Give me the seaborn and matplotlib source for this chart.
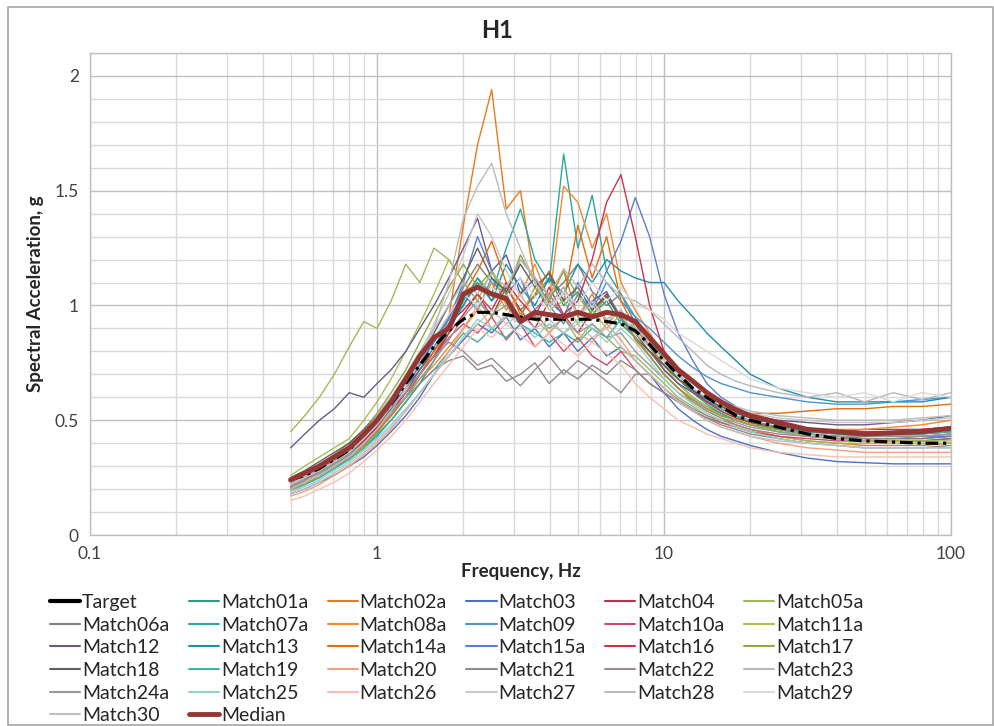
import numpy as np
import pandas as pd
import matplotlib
matplotlib.use("Agg")
import matplotlib.pyplot as plt
from matplotlib.lines import Line2D
from matplotlib.patches import Rectangle
from matplotlib.ticker import FixedLocator, NullFormatter, MultipleLocator
import seaborn as sns

freq = [0.5, 0.56, 0.63, 0.71, 0.8, 0.9, 1.0, 1.12, 1.26, 1.41,
        1.58, 1.78, 2.0, 2.24, 2.51, 2.82, 3.16, 3.55, 3.98, 4.47,
        5.01, 5.62, 6.31, 7.08, 7.94, 8.91, 10.0, 11.2, 12.6, 14.1,
        15.8, 17.8, 20.0, 25.0, 31.6, 40.0, 50.0, 63.0, 79.0, 100.0]

target = [0.24, 0.26, 0.29, 0.33, 0.37, 0.44, 0.50, 0.57, 0.66, 0.74,
          0.82, 0.89, 0.94, 0.97, 0.97, 0.96, 0.95, 0.94, 0.94, 0.94,
          0.94, 0.94, 0.93, 0.92, 0.89, 0.83, 0.76, 0.70, 0.64, 0.60,
          0.56, 0.52, 0.50, 0.47, 0.44, 0.42, 0.41, 0.405, 0.40, 0.40]
median = [0.24, 0.27, 0.30, 0.34, 0.38, 0.44, 0.50, 0.58, 0.68, 0.78,
          0.86, 0.90, 1.05, 1.08, 1.05, 1.03, 0.93, 0.97, 0.96, 0.95,
          0.97, 0.95, 0.97, 0.96, 0.93, 0.86, 0.79, 0.72, 0.67, 0.62,
          0.58, 0.545, 0.52, 0.49, 0.46, 0.45, 0.44, 0.445, 0.45, 0.465]

match01a = [0.22, 0.25, 0.27, 0.31, 0.35, 0.40, 0.45, 0.52, 0.60, 0.70,
            0.78, 0.90, 1.00, 1.12, 1.02, 1.08, 0.98, 1.04, 1.12, 1.00,
            1.06, 0.96, 1.02, 0.92, 0.86, 0.80, 0.74, 0.68, 0.63, 0.58,
            0.55, 0.52, 0.49, 0.46, 0.44, 0.43, 0.42, 0.42, 0.42, 0.43]
match02a = [0.20, 0.23, 0.26, 0.30, 0.33, 0.38, 0.44, 0.50, 0.58, 0.66,
            0.76, 0.95, 1.35, 1.70, 1.94, 1.42, 1.50, 1.10, 1.05, 1.15,
            0.95, 1.05, 0.92, 0.98, 0.85, 0.78, 0.70, 0.64, 0.58, 0.54,
            0.51, 0.48, 0.46, 0.43, 0.41, 0.40, 0.39, 0.39, 0.39, 0.40]
match03 = [0.18, 0.20, 0.23, 0.26, 0.30, 0.34, 0.39, 0.45, 0.52, 0.60,
           0.70, 0.78, 0.85, 0.92, 0.88, 0.95, 0.85, 0.90, 0.82, 0.88,
           0.80, 0.86, 0.78, 0.82, 0.76, 0.70, 0.62, 0.55, 0.50, 0.46,
           0.43, 0.41, 0.39, 0.36, 0.335, 0.32, 0.315, 0.31, 0.31, 0.31]
match04 = [0.21, 0.24, 0.28, 0.32, 0.36, 0.42, 0.48, 0.55, 0.64, 0.72,
           0.80, 0.92, 0.98, 1.05, 0.95, 1.08, 0.98, 0.90, 1.02, 0.96,
           0.88, 0.98, 1.05, 0.95, 0.86, 0.78, 0.70, 0.64, 0.59, 0.55,
           0.52, 0.50, 0.48, 0.46, 0.45, 0.45, 0.46, 0.46, 0.46, 0.47]
match05a = [0.45, 0.52, 0.60, 0.70, 0.82, 0.93, 0.90, 1.02, 1.18, 1.10,
            1.25, 1.20, 1.10, 1.02, 0.95, 1.05, 0.92, 0.98, 0.88, 0.95,
            0.85, 0.92, 0.86, 0.80, 0.78, 0.72, 0.66, 0.60, 0.56, 0.52,
            0.49, 0.47, 0.45, 0.43, 0.41, 0.40, 0.40, 0.40, 0.40, 0.40]
match06a = [0.24, 0.27, 0.30, 0.34, 0.38, 0.45, 0.52, 0.60, 0.66, 0.74,
            0.85, 0.95, 1.08, 1.18, 1.10, 1.05, 1.20, 1.12, 1.04, 1.10,
            1.18, 1.06, 1.00, 1.05, 0.92, 0.82, 0.72, 0.66, 0.60, 0.56,
            0.53, 0.50, 0.48, 0.46, 0.44, 0.43, 0.42, 0.42, 0.42, 0.43]
match07a = [0.20, 0.22, 0.25, 0.29, 0.33, 0.38, 0.43, 0.50, 0.58, 0.66,
            0.76, 0.88, 1.02, 1.12, 1.05, 1.25, 1.42, 1.20, 1.10, 1.66,
            1.25, 1.48, 1.15, 1.05, 0.95, 0.85, 0.76, 0.68, 0.62, 0.57,
            0.53, 0.50, 0.48, 0.45, 0.43, 0.42, 0.41, 0.41, 0.41, 0.42]
match08a = [0.19, 0.22, 0.26, 0.30, 0.34, 0.40, 0.46, 0.52, 0.60, 0.68,
            0.74, 0.82, 0.90, 0.98, 1.10, 0.98, 1.05, 1.18, 1.02, 1.52,
            1.45, 1.25, 1.40, 1.10, 0.98, 0.88, 0.78, 0.70, 0.63, 0.58,
            0.54, 0.51, 0.49, 0.47, 0.46, 0.46, 0.46, 0.47, 0.48, 0.50]
match09 = [0.22, 0.25, 0.28, 0.32, 0.37, 0.43, 0.50, 0.58, 0.66, 0.75,
           0.85, 0.95, 1.05, 0.98, 1.12, 1.02, 0.95, 1.08, 1.00, 0.92,
           1.05, 0.98, 1.10, 1.02, 0.95, 0.90, 0.84, 0.78, 0.73, 0.69,
           0.66, 0.64, 0.62, 0.60, 0.58, 0.57, 0.57, 0.58, 0.59, 0.60]
match10a = [0.23, 0.26, 0.29, 0.33, 0.37, 0.43, 0.48, 0.54, 0.62, 0.70,
            0.78, 0.86, 0.92, 0.88, 0.95, 0.85, 0.92, 0.82, 0.88, 0.80,
            0.86, 0.78, 0.74, 0.80, 0.72, 0.66, 0.62, 0.58, 0.54, 0.51,
            0.49, 0.47, 0.45, 0.43, 0.42, 0.41, 0.41, 0.41, 0.41, 0.42]
match11a = [0.26, 0.30, 0.34, 0.38, 0.42, 0.50, 0.58, 0.68, 0.80, 0.92,
            1.05, 1.20, 1.10, 1.02, 1.15, 1.00, 0.95, 1.08, 0.98, 1.02,
            0.92, 0.98, 0.90, 0.96, 0.88, 0.82, 0.74, 0.66, 0.60, 0.56,
            0.52, 0.50, 0.48, 0.45, 0.43, 0.42, 0.41, 0.41, 0.41, 0.41]
match12 = [0.38, 0.44, 0.50, 0.55, 0.62, 0.60, 0.66, 0.72, 0.80, 0.90,
           1.00, 1.12, 1.25, 1.38, 1.15, 1.22, 1.05, 1.12, 1.00, 1.08,
           0.96, 1.02, 1.06, 0.94, 0.86, 0.80, 0.72, 0.66, 0.62, 0.58,
           0.56, 0.54, 0.52, 0.50, 0.49, 0.48, 0.48, 0.49, 0.50, 0.52]
match13 = [0.21, 0.24, 0.27, 0.31, 0.35, 0.41, 0.47, 0.55, 0.62, 0.72,
           0.82, 0.92, 1.00, 1.10, 1.02, 1.18, 1.08, 1.00, 1.12, 1.05,
           1.18, 1.10, 1.20, 1.15, 1.12, 1.10, 1.10, 1.02, 0.95, 0.88,
           0.82, 0.76, 0.70, 0.64, 0.60, 0.58, 0.58, 0.58, 0.58, 0.60]
match14a = [0.20, 0.23, 0.26, 0.30, 0.34, 0.39, 0.45, 0.52, 0.60, 0.70,
            0.80, 0.90, 1.05, 1.15, 1.28, 1.10, 0.96, 1.05, 1.15, 1.02,
            1.35, 1.12, 1.30, 1.02, 0.90, 0.82, 0.74, 0.68, 0.63, 0.59,
            0.56, 0.54, 0.53, 0.53, 0.54, 0.55, 0.55, 0.56, 0.56, 0.57]
match15a = [0.22, 0.25, 0.28, 0.32, 0.36, 0.42, 0.48, 0.56, 0.64, 0.74,
            0.84, 0.94, 1.10, 1.30, 1.15, 1.05, 1.12, 0.98, 1.05, 0.95,
            1.10, 1.00, 1.15, 1.28, 1.47, 1.30, 1.05, 0.88, 0.76, 0.66,
            0.60, 0.56, 0.52, 0.48, 0.45, 0.44, 0.43, 0.43, 0.43, 0.43]
match16 = [0.21, 0.24, 0.28, 0.32, 0.36, 0.41, 0.47, 0.54, 0.62, 0.70,
           0.78, 0.88, 0.96, 1.05, 0.98, 1.10, 1.02, 0.95, 1.08, 0.96,
           1.02, 1.20, 1.45, 1.57, 1.30, 1.00, 0.80, 0.70, 0.63, 0.58,
           0.54, 0.51, 0.49, 0.47, 0.46, 0.45, 0.45, 0.45, 0.46, 0.47]
match17 = [0.24, 0.27, 0.31, 0.35, 0.40, 0.46, 0.53, 0.62, 0.72, 0.84,
           0.96, 1.08, 1.18, 1.08, 1.15, 1.05, 1.22, 1.10, 1.02, 1.15,
           1.04, 0.96, 1.04, 0.94, 0.86, 0.78, 0.70, 0.64, 0.59, 0.55,
           0.52, 0.50, 0.48, 0.46, 0.44, 0.43, 0.43, 0.43, 0.43, 0.44]
match18 = [0.25, 0.28, 0.32, 0.36, 0.40, 0.46, 0.52, 0.58, 0.66, 0.76,
           0.88, 1.00, 1.12, 1.25, 1.12, 1.06, 1.18, 1.08, 1.14, 1.02,
           1.08, 0.98, 1.04, 0.94, 0.88, 0.80, 0.74, 0.68, 0.63, 0.59,
           0.56, 0.53, 0.51, 0.48, 0.46, 0.45, 0.44, 0.44, 0.44, 0.45]
match19 = [0.20, 0.22, 0.25, 0.29, 0.33, 0.38, 0.44, 0.50, 0.58, 0.66,
           0.72, 0.80, 0.88, 0.84, 0.90, 0.86, 0.92, 0.88, 0.84, 0.88,
           0.84, 0.90, 0.86, 0.94, 0.90, 0.84, 0.78, 0.70, 0.64, 0.59,
           0.55, 0.52, 0.50, 0.47, 0.45, 0.44, 0.44, 0.44, 0.44, 0.45]
match20 = [0.17, 0.19, 0.22, 0.26, 0.30, 0.35, 0.40, 0.46, 0.54, 0.62,
           0.70, 0.80, 0.90, 1.00, 0.90, 0.95, 1.05, 0.94, 0.88, 0.95,
           0.88, 0.84, 0.92, 0.85, 0.76, 0.70, 0.64, 0.58, 0.54, 0.50,
           0.47, 0.45, 0.43, 0.40, 0.38, 0.37, 0.36, 0.36, 0.36, 0.36]
match21 = [0.22, 0.25, 0.28, 0.32, 0.36, 0.42, 0.48, 0.54, 0.60, 0.66,
           0.72, 0.76, 0.78, 0.72, 0.74, 0.67, 0.70, 0.75, 0.66, 0.72,
           0.68, 0.74, 0.70, 0.76, 0.72, 0.66, 0.62, 0.58, 0.54, 0.51,
           0.48, 0.46, 0.44, 0.42, 0.40, 0.39, 0.38, 0.38, 0.38, 0.39]
match22 = [0.23, 0.26, 0.29, 0.33, 0.37, 0.43, 0.49, 0.56, 0.62, 0.70,
           0.78, 0.84, 0.80, 0.74, 0.77, 0.71, 0.65, 0.72, 0.78, 0.70,
           0.76, 0.72, 0.67, 0.62, 0.70, 0.70, 0.64, 0.59, 0.55, 0.52,
           0.50, 0.48, 0.46, 0.44, 0.43, 0.42, 0.42, 0.42, 0.43, 0.44]
match23 = [0.24, 0.27, 0.30, 0.34, 0.39, 0.45, 0.52, 0.60, 0.70, 0.80,
           0.90, 1.00, 1.10, 1.05, 1.14, 1.08, 1.20, 1.12, 1.04, 1.16,
           1.08, 1.18, 1.10, 1.04, 1.02, 0.98, 0.92, 0.86, 0.80, 0.74,
           0.70, 0.67, 0.65, 0.62, 0.60, 0.62, 0.58, 0.62, 0.59, 0.62]
match24a = [0.21, 0.24, 0.27, 0.31, 0.35, 0.40, 0.46, 0.53, 0.60, 0.68,
            0.76, 0.85, 0.95, 1.02, 0.96, 1.00, 0.92, 0.96, 0.90, 0.94,
            0.88, 0.92, 0.86, 0.88, 0.80, 0.74, 0.68, 0.62, 0.58, 0.54,
            0.51, 0.49, 0.47, 0.45, 0.44, 0.43, 0.43, 0.43, 0.43, 0.44]
match25 = [0.19, 0.21, 0.24, 0.28, 0.32, 0.37, 0.42, 0.48, 0.55, 0.62,
           0.70, 0.78, 0.86, 0.94, 0.90, 0.96, 0.92, 0.86, 0.92, 0.88,
           0.94, 0.90, 0.84, 0.90, 0.84, 0.76, 0.68, 0.62, 0.57, 0.53,
           0.50, 0.47, 0.45, 0.42, 0.40, 0.39, 0.38, 0.38, 0.38, 0.38]
match26 = [0.15, 0.17, 0.20, 0.23, 0.27, 0.32, 0.37, 0.43, 0.50, 0.58,
           0.66, 0.74, 0.82, 0.90, 0.86, 0.92, 0.87, 0.82, 0.88, 0.83,
           0.78, 0.84, 0.79, 0.74, 0.66, 0.60, 0.55, 0.50, 0.47, 0.44,
           0.42, 0.40, 0.38, 0.36, 0.35, 0.34, 0.34, 0.34, 0.34, 0.34]
match27 = [0.22, 0.25, 0.28, 0.32, 0.36, 0.42, 0.48, 0.56, 0.66, 0.78,
           0.92, 1.05, 1.22, 1.40, 1.30, 1.15, 1.04, 1.10, 1.00, 1.05,
           0.96, 1.00, 0.94, 0.96, 0.88, 0.82, 0.76, 0.70, 0.64, 0.60,
           0.57, 0.55, 0.53, 0.51, 0.50, 0.49, 0.49, 0.49, 0.50, 0.51]
match28 = [0.20, 0.23, 0.26, 0.30, 0.34, 0.40, 0.46, 0.54, 0.64, 0.76,
           0.90, 1.10, 1.38, 1.52, 1.62, 1.40, 1.25, 1.10, 1.00, 1.08,
           0.96, 1.02, 0.94, 0.98, 0.90, 0.84, 0.78, 0.72, 0.66, 0.62,
           0.58, 0.56, 0.54, 0.52, 0.51, 0.50, 0.50, 0.50, 0.51, 0.52]
match29 = [0.23, 0.26, 0.30, 0.34, 0.38, 0.44, 0.50, 0.58, 0.66, 0.76,
           0.86, 0.96, 1.05, 1.00, 1.08, 1.02, 1.12, 1.04, 0.98, 1.06,
           1.00, 1.10, 1.02, 1.08, 1.00, 0.98, 0.94, 0.88, 0.84, 0.80,
           0.76, 0.72, 0.68, 0.64, 0.62, 0.60, 0.62, 0.58, 0.62, 0.60]
match30 = [0.18, 0.20, 0.23, 0.27, 0.31, 0.36, 0.41, 0.47, 0.54, 0.62,
           0.70, 0.78, 0.86, 0.92, 0.98, 0.92, 0.96, 0.90, 0.94, 0.88,
           0.92, 0.86, 0.90, 0.82, 0.76, 0.70, 0.64, 0.58, 0.54, 0.50,
           0.47, 0.45, 0.43, 0.41, 0.40, 0.39, 0.38, 0.38, 0.38, 0.38]

match_names = ["Match01a", "Match02a", "Match03", "Match04", "Match05a",
               "Match06a", "Match07a", "Match08a", "Match09", "Match10a",
               "Match11a", "Match12", "Match13", "Match14a", "Match15a",
               "Match16", "Match17", "Match18", "Match19", "Match20",
               "Match21", "Match22", "Match23", "Match24a", "Match25",
               "Match26", "Match27", "Match28", "Match29", "Match30"]
match_values = [match01a, match02a, match03, match04, match05a,
                match06a, match07a, match08a, match09, match10a,
                match11a, match12, match13, match14a, match15a,
                match16, match17, match18, match19, match20,
                match21, match22, match23, match24a, match25,
                match26, match27, match28, match29, match30]
match_colors = ["#2E9C7E", "#E97A1F", "#4A72C4", "#C0304D", "#9BBB59",
                "#7F7F7F", "#2BA6A0", "#F08A30", "#4F93D1", "#D04A6A",
                "#A8C050", "#6A5A8C", "#1F8FA8", "#E46C0A", "#5A7FD0",
                "#C8334A", "#8FA845", "#606060", "#40B0A0", "#F4A080",
                "#8C8C8C", "#A08890", "#B8B8B8", "#999999", "#90D0C8",
                "#F8C0B0", "#C8C8C8", "#BBBBBB", "#DADADA", "#C0C0C0"]

rows = []
for name, vals in zip(match_names, match_values):
    assert len(vals) == len(freq), name
    for f, v in zip(freq, vals):
        rows.append({"freq": f, "sa": v, "series": name})
df = pd.DataFrame(rows)

sns.set_theme(style="white")
plt.rcParams["font.family"] = ["Lato", "DejaVu Sans"]

W, H = 994, 726
fig = plt.figure(figsize=(W / 100, H / 100), dpi=100)
fig.patch.set_facecolor("white")
ax = fig.add_axes([90 / W, 1 - 535 / H, (951 - 90) / W, (535 - 53) / H])
ax.set_xscale("log")

sns.lineplot(data=df, x="freq", y="sa", hue="series", hue_order=match_names,
             palette=dict(zip(match_names, match_colors)), linewidth=1.0,
             legend=False, ax=ax, zorder=2, sort=False)
sns.lineplot(x=freq, y=target, color="black", linewidth=2.3, ax=ax,
             zorder=3, legend=False, linestyle=(0, (4, 1.5, 1, 1.5)))
sns.lineplot(x=freq, y=median, color="#943634", linewidth=3.6, ax=ax,
             zorder=4, legend=False)

ax.set_xlim(0.1, 100)
ax.set_ylim(0, 2.1)
ax.xaxis.set_major_locator(FixedLocator([0.1, 1, 10, 100]))
ax.set_xticklabels(["0.1", "1", "10", "100"])
minors = [m * d for d in (0.1, 1, 10) for m in range(2, 10)]
ax.xaxis.set_minor_locator(FixedLocator(minors))
ax.xaxis.set_minor_formatter(NullFormatter())
ax.set_yticks([0, 0.5, 1.0, 1.5, 2.0])
ax.set_yticklabels(["0", "0.5", "1", "1.5", "2"])
ax.yaxis.set_minor_locator(MultipleLocator(0.1))
ax.grid(which="major", color="#BFBFBF", linewidth=1.0)
ax.grid(which="minor", color="#D9D9D9", linewidth=1.0)
ax.set_axisbelow(True)
for s in ax.spines.values():
    s.set_color("#BFBFBF")
    s.set_linewidth(1.0)
ax.tick_params(axis="both", which="both", length=0, labelsize=12.5,
               colors="#404040", pad=8)
ax.set_xlabel("Frequency, Hz", fontsize=13.5, fontweight="bold", labelpad=1)
ax.set_ylabel("Spectral Acceleration, g", fontsize=13.5, fontweight="bold",
              labelpad=8)

fig.text(0.5, 1 - 30 / H, "H1", ha="center", va="center", fontsize=17,
         fontweight="bold")

# legend (row-major like the reference; matplotlib fills column-major)
labels_rm = ["Target"] + match_names + ["Median"]
colors_rm = ["black"] + match_colors + ["#943634"]
widths_rm = [3.0] + [1.5] * 30 + [3.5]
ncol = 6
order = []
for c in range(ncol):
    r = 0
    while r * ncol + c < len(labels_rm):
        order.append(r * ncol + c)
        r += 1
handles = [Line2D([], [], color=colors_rm[i], linewidth=widths_rm[i]) for i in order]
labels = [labels_rm[i] for i in order]
fig.legend(handles, labels, ncol=ncol, loc="upper left",
           bbox_to_anchor=(50 / W, 1 - 594 / H), frameon=False,
           fontsize=14, handlelength=1.55, handletextpad=0.1,
           columnspacing=1.0, labelspacing=0.29, borderpad=0,
           borderaxespad=0)

fig.add_artist(Rectangle((8 / W, 1 / H), (W - 9) / W, (H - 8) / H,
                         transform=fig.transFigure, fill=False,
                         edgecolor="#A6A6A6", linewidth=1.2))

fig.savefig("out.png", dpi=100)
